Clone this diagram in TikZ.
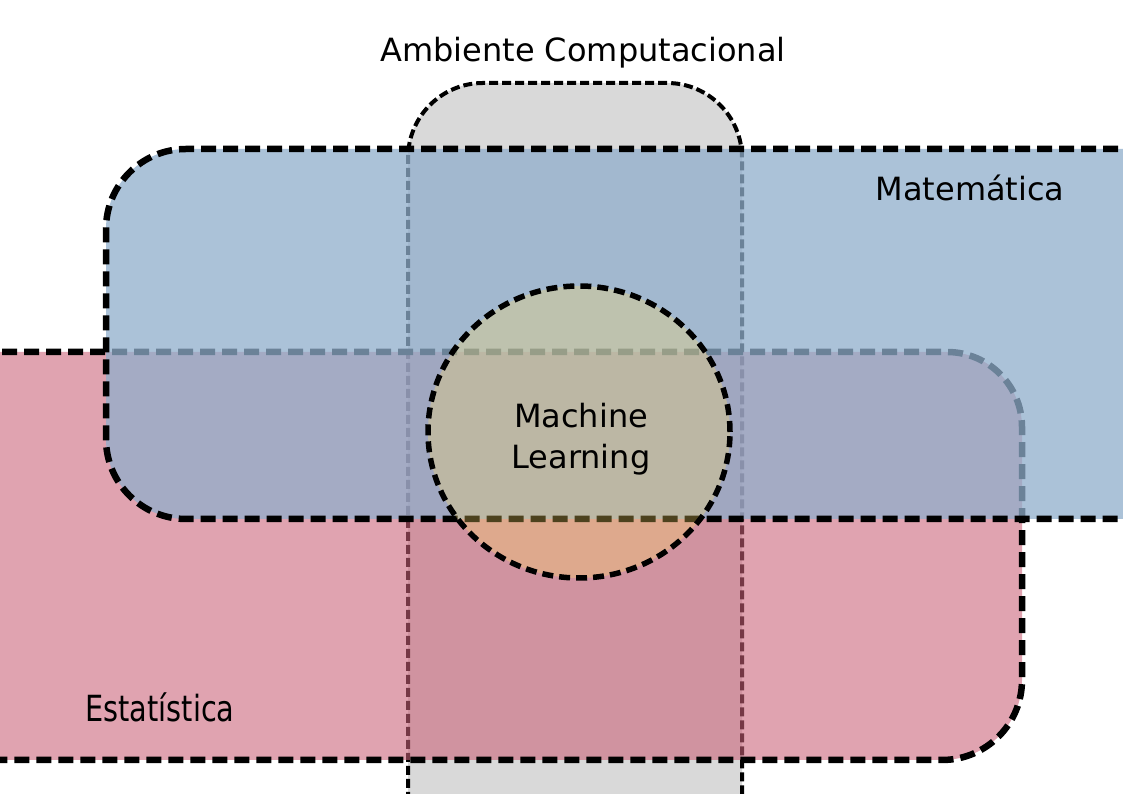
\documentclass[tikz,border=0pt]{standalone}
\usepackage{fontspec}
\usetikzlibrary{shapes.geometric}
\newfontfamily\dejavu{DejaVu Sans}
\newfontfamily\dejavucond[FakeStretch=0.8]{DejaVu Sans}
\definecolor{grayfill}{RGB}{217,217,217}
\definecolor{bluefill}{RGB}{144,174,204}
\definecolor{pinkfill}{RGB}{202,98,120}
\definecolor{mlfill}{RGB}{255,220,100}
\tikzset{
  setborder/.style={draw=black, line width=6.5pt, dash pattern=on 15pt off 7pt},
  compborder/.style={draw=black, line width=4pt, dash pattern=on 9pt off 4pt},
  mlcircle/.style={ellipse, draw=black, line width=5.5pt, dash pattern=on 11pt off 6pt,
    fill=mlfill, fill opacity=0.3, draw opacity=1, minimum width=302pt, minimum height=292pt, inner sep=0pt},
  lbl/.style={font=\dejavu\fontsize{32}{41}\selectfont, text=black, inner sep=0pt, align=center},
}
\begin{document}
\begin{tikzpicture}[x=1pt,y=1pt]
\useasboundingbox (0,0) rectangle (1123,794);
\clip (0,0) rectangle (1123,794);
\fill[white] (0,0) rectangle (1123,794);
% Ambiente Computacional (gray column)
\path[compborder, fill=grayfill]
  (408,-20) -- (408,636) arc[start angle=180, end angle=90, radius=75pt]
  -- (667,711) arc[start angle=90, end angle=0, radius=75pt] -- (742,-20);
% Estatistica (pink)
\path[setborder, fill=pinkfill, fill opacity=0.58]
  (-20,442) -- (947,442) arc[start angle=90, end angle=0, radius=75pt]
  -- (1022,114) arc[start angle=0, end angle=-90, radius=80pt] -- (-20,34);
% Matematica (blue)
\path[setborder, fill=bluefill, fill opacity=0.75]
  (1140,645) -- (186,645) arc[start angle=90, end angle=180, radius=80pt]
  -- (106,355) arc[start angle=180, end angle=270, radius=80pt] -- (1140,275);
% Machine Learning circle
\node[mlcircle] (ml) at (579,362) {};
% labels
\node[lbl, anchor=base] (amb) at (583,732) {Ambiente Computacional};
\node[lbl, anchor=base] (mat) at (970,593) {Matemática};
\node[lbl] (mltext) at (581,354.5) {Machine\\Learning};
\node[font=\dejavucond\fontsize{36}{40}\selectfont, inner sep=0pt, anchor=base] (est) at (160,72) {Estatística};
\end{tikzpicture}
\end{document}
